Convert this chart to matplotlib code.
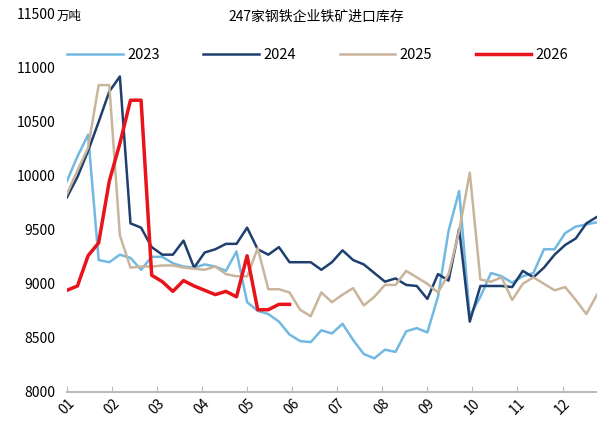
import numpy as np
import matplotlib.pyplot as plt

plt.rcParams['font.family'] = ['Noto Sans CJK SC', 'DejaVu Sans']

months = ['01', '02', '03', '04', '05', '06', '07', '08', '09', '10', '11', '12']

y2023 = [9950, 10180, 10380, 9220, 9200, 9270, 9240, 9130, 9250, 9250, 9190, 9160, 9150,
         9180, 9160, 9120, 9300, 8830, 8750, 8720, 8650, 8530, 8470, 8460, 8570, 8540,
         8630, 8480, 8350, 8310, 8390, 8370, 8560, 8590, 8550, 8880, 9490, 9860, 8700,
         8880, 9100, 9070, 9010, 9070, 9100, 9320, 9320, 9470, 9530, 9550, 9570]
y2024 = [9800, 9990, 10230, 10500, 10780, 10920, 9560, 9520, 9340, 9270, 9270, 9400, 9150,
         9290, 9320, 9370, 9370, 9520, 9320, 9270, 9340, 9200, 9200, 9200, 9130, 9200,
         9310, 9220, 9180, 9100, 9020, 9050, 8990, 8980, 8860, 9090, 9030, 9510, 8650,
         8980, 8980, 8980, 8970, 9120, 9060, 9150, 9270, 9360, 9420, 9560, 9620]
y2025 = [9830, 10050, 10260, 10840, 10840, 9450, 9150, 9160, 9160, 9170, 9170, 9150, 9140,
         9130, 9160, 9090, 9070, 9070, 9330, 8950, 8950, 8920, 8760, 8700, 8920, 8830,
         8900, 8960, 8800, 8880, 8990, 8990, 9120, 9060, 9000, 8920, 9090, 9490, 10030,
         9040, 9020, 9060, 8850, 9000, 9060, 9000, 8940, 8970, 8850, 8720, 8900]
y2026 = [8940, 8980, 9260, 9380, 9950, 10300, 10700, 10700, 9080, 9020, 8930, 9030, 8980,
         8940, 8900, 8930, 8880, 9260, 8760, 8760, 8810, 8810]

series = [('2023', y2023, '#72b9e2', 1.8), ('2024', y2024, '#1f3f6e', 1.8),
          ('2025', y2025, '#c9b59c', 1.8), ('2026', y2026, '#e8141c', 2.5)]

fig, ax = plt.subplots(figsize=(5.97, 4.32), dpi=100)
fig.subplots_adjust(left=0.112, right=1.0, top=0.968, bottom=0.093)

for name, vals, color, lw in series:
    ax.plot(np.arange(len(vals)), vals, color=color, lw=lw, label=name)

ax.set_xlim(0, 50)
ax.set_ylim(8000, 11500)
ax.set_yticks(range(8000, 11501, 500))
ax.set_yticklabels([str(v) for v in range(8000, 11501, 500)], fontsize=10)
ax.set_xticks(np.arange(12) * 4.25)
ax.set_xticklabels(months, rotation=45, fontsize=10)
ax.tick_params(axis='y', length=0, pad=8)
ax.tick_params(axis='x', direction='in', length=4, color='#bbbbbb')
for s in ['top', 'right', 'left']:
    ax.spines[s].set_visible(False)
ax.spines['bottom'].set_color('#bbbbbb')
ax.spines['bottom'].set_linewidth(1.5)

fig.text(0.095, 0.962, '万吨', fontsize=9, va='center')
fig.text(0.53, 0.962, '247家钢铁企业铁矿进口库存', fontsize=10, ha='center', va='center')

ax.legend(loc='upper left', bbox_to_anchor=(-0.01, 0.925), borderaxespad=0, ncol=4,
          frameon=False, fontsize=10.5, handlelength=3.8, columnspacing=3.0,
          handletextpad=0.3)

fig.savefig('out.png')
